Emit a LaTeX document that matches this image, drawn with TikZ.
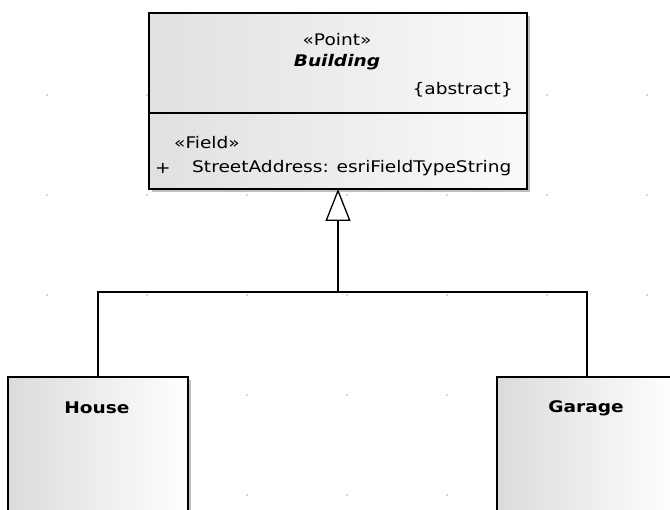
\documentclass[tikz,border=0pt]{standalone}
\usepackage{fontspec}
\setmainfont{DejaVu Sans}[FakeStretch=1.16]
\usetikzlibrary{arrows.meta,positioning,shadows}
\tikzset{
  classbox/.style={draw=black, line width=1.3pt, outer sep=0pt, inner sep=0pt,
    left color=black!12, right color=black!2,
    drop shadow={shadow xshift=3pt, shadow yshift=-3pt, fill=black!25, opacity=1}},
  leafbox/.style={classbox, left color=black!14, right color=white,
    minimum width=180pt, minimum height=160pt},
  txt/.style={inner sep=0pt, font=\fontsize{16}{19}\selectfont},
  gen/.style={line width=1.3pt, -{Triangle[length=32pt, width=25pt, fill=white]}},
  griddot/.style={fill=black!30}
}
\begin{document}
\begin{tikzpicture}[x=1pt,y=-1pt]
  \clip (0,0) rectangle (670,510);
  % grid
  \foreach \i in {0,...,6}
    \foreach \j in {0,...,4}
      \fill[griddot] (47+100*\i,95+100*\j) circle (0.8pt);
  % Building
  \node[classbox, minimum width=378pt, minimum height=100pt] (bhead) at (338,63) {};
  \node[classbox, minimum width=378pt, minimum height=76pt, below=0pt of bhead] (bbody) {};
  \node[txt] (bstereo) at (337,40) {«Point»};
  \node[txt, font=\fontsize{16}{19}\selectfont\bfseries\itshape] (bname) at (337,62) {Building};
  \node[txt, anchor=east] (babstract) at (513,90) {\{abstract\}};
  \node[txt, anchor=west] (fstereo) at (174,143) {«Field»};
  \node[txt] (fvis) at (163,168) {+};
  \node[txt, anchor=west] (fattr) at (192,168) {StreetAddress: esriFieldTypeString};
  % subclasses
  \node[leafbox] (house) at (98,457) {};
  \node[leafbox] (garage) at (587,457) {};
  \node[txt, font=\fontsize{16}{19}\selectfont\bfseries] (hname) at (97,408) {House};
  \node[txt, font=\fontsize{16}{19}\selectfont\bfseries] (gname) at (586,408) {Garage};
  % generalization
  \coordinate (fork) at (338,292);
  \draw[line width=1.3pt] (house.north) |- (fork) -| (garage.north);
  \draw[gen] (fork) -- (bbody.south);
\end{tikzpicture}
\end{document}
